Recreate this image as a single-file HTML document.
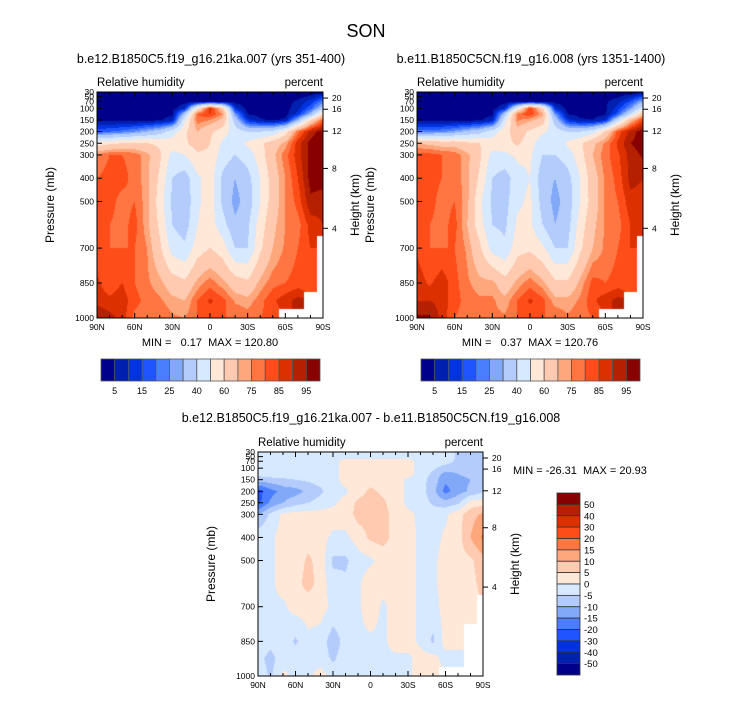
<!DOCTYPE html>
<html><head><meta charset="utf-8">
<style>
body{margin:0;background:#fff;width:733px;height:701px;overflow:hidden;position:relative;font-family:"Liberation Sans",Arial,sans-serif}
canvas{position:absolute}
svg{position:absolute;left:0;top:0}
text{font-family:"Liberation Sans",Arial,sans-serif;fill:#000}
</style></head>
<body>
<canvas id="c1" style="left:97px;top:92px" width="226" height="226"></canvas>
<canvas id="c2" style="left:417px;top:92px" width="226" height="226"></canvas>
<canvas id="c3" style="left:258px;top:452px" width="225" height="224"></canvas>
<svg id="ov" width="733" height="701">
<text x="366" y="37" font-size="18" text-anchor="middle">SON</text>
<text x="211" y="63" font-size="12.5" text-anchor="middle">b.e12.B1850C5.f19_g16.21ka.007 (yrs 351-400)</text>
<text x="531" y="63" font-size="12.5" text-anchor="middle">b.e11.B1850C5CN.f19_g16.008 (yrs 1351-1400)</text>
<text x="371" y="422" font-size="12.5" text-anchor="middle">b.e12.B1850C5.f19_g16.21ka.007 - b.e11.B1850C5CN.f19_g16.008</text>
<text x="210" y="346" font-size="11" text-anchor="middle" xml:space="preserve">MIN =   0.17  MAX = 120.80</text>
<text x="530" y="346" font-size="11" text-anchor="middle" xml:space="preserve">MIN =   0.37  MAX = 120.76</text>
<text x="513" y="474" font-size="11" xml:space="preserve">MIN = -26.31  MAX = 20.93</text>
</svg>
<script>
const pressures=[30,50,70,100,125,150,200,250,300,400,500,600,700,850,925,1000];
const latLabels=["90N","60N","30N","0","30S","60S","90S"];
const pTicks=[30,50,70,100,150,200,250,300,400,500,700,850,1000];
const zTicks=[20,16,12,8,4];
const zTickP=[56,104,198,358,615];
const rhLevels=[5,10,15,20,25,30,40,50,60,70,75,80,85,90,95];
const rhLabels=["5","15","25","40","60","75","85","95"];
const diffLevels=[-50,-40,-30,-20,-15,-10,-5,0,5,10,15,20,30,40,50];
const diffLabels=["50","40","30","20","15","10","5","0","-5","-10","-15","-20","-30","-40","-50"];
const palette=["#00008a","#0020b0","#0033e0","#1f55ff","#4a7dff","#82a8f8","#b3ccfc","#d7e9ff","#ffe8d8","#ffcab0","#ffa77c","#ff7642","#ff4d1a","#dd3000","#b52000","#880000"];
const N=null;
const rh1=[
[2,2,2,2,2,2,2,2,2,2,2,2,2,2,2,2,2,2,2],
[2,2,2,2,2,2,2,2,2,2,2,2,2,2,2,2,3,6,12],
[2,2,2,2,2,2,2,2,2,2,2,2,2,2,2,3,6,12,22],
[2,2,2,2,2,2,3,10,55,88,65,12,3,2,2,3,8,18,35],
[3,3,3,3,3,3,4,35,80,85,75,25,5,3,3,3,12,30,60],
[3,3,3,3,3,4,8,48,78,75,68,35,12,6,4,6,30,60,80],
[18,20,22,25,30,35,45,58,70,62,55,45,40,40,42,55,78,92,98],
[55,58,60,62,60,58,55,58,66,60,48,45,52,58,65,72,88,97,100],
[76,80,80,78,72,62,47,50,58,58,45,40,45,55,68,78,88,97,100],
[80,82,82,78,72,58,40,35,48,55,38,30,36,50,65,75,85,97,98],
[80,82,78,80,72,55,38,33,48,55,38,27,34,50,65,75,82,94,92],
[80,80,78,82,72,58,40,35,50,55,44,32,38,55,68,75,78,87,90],
[82,80,80,80,75,62,46,42,55,60,55,40,40,58,70,76,80,85,N],
[86,82,85,80,76,72,65,62,72,78,72,65,62,72,78,80,82,82,N],
[88,86,88,82,78,76,72,70,80,86,82,74,72,78,84,88,92,N,N],
[96,92,88,78,78,80,76,75,80,82,80,80,78,80,82,N,N,N,N]];
const rh2=[
[2,2,2,2,2,2,2,2,2,2,2,2,2,2,2,2,2,2,2],
[2,2,2,2,2,2,2,2,2,2,2,2,2,2,2,2,4,8,16],
[2,2,2,2,2,2,2,2,2,2,2,2,2,2,2,4,8,16,28],
[2,2,2,2,2,2,3,10,50,86,62,12,3,2,2,4,12,26,45],
[3,3,3,3,3,3,4,35,78,84,72,25,5,3,3,4,18,40,68],
[3,3,3,3,3,4,8,46,76,72,66,35,12,6,5,10,40,68,85],
[22,22,24,27,32,36,45,56,66,58,52,45,40,40,45,62,82,92,98],
[70,68,66,66,62,60,55,56,62,54,44,44,52,58,68,76,86,95,98],
[82,82,80,78,72,62,47,48,52,52,40,40,45,56,70,78,84,92,96],
[82,82,80,78,72,58,40,35,46,50,34,30,36,50,66,76,82,92,90],
[82,82,78,80,72,52,38,36,48,52,36,27,34,50,65,76,80,88,88],
[82,80,78,82,70,54,40,38,52,52,40,30,36,55,68,76,78,85,88],
[84,80,80,80,74,62,46,42,56,58,52,40,40,58,70,76,80,85,N],
[88,84,88,82,76,72,72,64,72,78,72,62,62,72,82,80,82,82,N],
[90,90,88,82,78,76,76,72,80,86,82,72,72,76,84,88,92,N,N],
[96,96,88,80,78,80,76,76,80,82,80,80,76,78,80,N,N,N,N]];
const diff=[
[-2,-2,-2,-2,-2,-2,-2,-2,-2,-2,-2,-2,-2,-2,-2,-2,-6,-6,-6],
[-2,-2,-2,-2,-2,-2,-2,-2,-2,-2,-2,-2,-2,-2,-2,-2,-6,-6,-6],
[-2,-2,-2,-2,-2,-2,-2,2,2,2,2,2,2,-2,-3,-3,-6,-6,-6],
[-2,-2,-2,-2,-2,-2,-2,2,2,2,2,2,2,-2,-4,-7,-8,-7,-6],
[-3,-2,-2,-2,-2,-2,-2,2,2,2,2,2,2,-2,-6,-12,-10,-8,-7],
[-8,-7,-6,-5,-4,-3,-2,2,3,3,2,2,-1,-3,-7,-14,-12,-10,-8],
[-22,-17,-13,-12,-9,-6,-2,-1,3,6,4,2,-1,-3,-8,-17,-12,-9,-6],
[-22,-14,-10,-7,-5,-3,-1,2,6,7,6,2,-1,-2,-6,-8,-6,2,3],
[-10,-4,1,2,2,2,2,2,7,7,7,3,1,-1,-2,-1,3,8,11],
[-2,-1,2,2,3,2,-1,-1,2,6,7,3,2,-1,-2,1,3,10,16],
[-2,-1,2,2,6,3,-6,-6,-2,-1,2,3,2,-1,-1,2,3,4,8],
[-2,-1,2,3,7,3,-3,-4,-1,3,2,3,2,-1,-1,2,3,3,7],
[-2,-1,-1,2,2,2,-1,-1,-1,3,-1,2,2,-1,-2,2,2,2,N],
[-2,-3,-1,-6,-1,-2,-8,-3,-1,-1,-1,2,2,-1,-6,2,2,N,N],
[-3,-7,-2,-1,-2,-2,-6,-2,-1,-1,-1,-1,-1,2,2,-2,-2,N,N],
[-1,-6,1,-1,-1,2,-1,-1,-1,-1,-1,-1,-1,2,3,N,N,N,N]];

function colorIndex(v,levels){let i=0;while(i<levels.length&&v>=levels[i])i++;return i;}
function hex(h){return [parseInt(h.substr(1,2),16),parseInt(h.substr(3,2),16),parseInt(h.substr(5,2),16)];}
const palRGB=palette.map(hex);
function pToFrac(p){return (p-30)/970;}
function fill(id,grid,levels){
  const cv=document.getElementById(id),ctx=cv.getContext('2d'),W=cv.width,H=cv.height;
  const img=ctx.createImageData(W,H);
  for(let py=0;py<H;py++){
    const p=30+(py+0.5)/H*970;
    let r=0;while(r<pressures.length-2&&p>pressures[r+1])r++;
    const t=(p-pressures[r])/(pressures[r+1]-pressures[r]);
    for(let px=0;px<W;px++){
      const f=(px+0.5)/W*18;let c=Math.min(17,Math.floor(f));const s=f-c;
      const corners=[[grid[r][c],(1-s)*(1-t)],[grid[r][c+1],s*(1-t)],[grid[r+1][c],(1-s)*t],[grid[r+1][c+1],s*t]];
      const near=grid[r+(t>0.5?1:0)][c+(s>0.5?1:0)];
      let k=(py*W+px)*4;
      if(near===null){img.data[k]=255;img.data[k+1]=255;img.data[k+2]=255;img.data[k+3]=255;continue;}
      let sum=0,ws=0;for(const [v,w] of corners){if(v!==null){sum+=v*w;ws+=w;}}
      const col=palRGB[colorIndex(sum/ws,levels)];
      img.data[k]=col[0];img.data[k+1]=col[1];img.data[k+2]=col[2];img.data[k+3]=255;
    }
  }
  ctx.putImageData(img,0,0);
}
fill('c1',rh1,rhLevels);fill('c2',rh2,rhLevels);fill('c3',diff,diffLevels);

const NS="http://www.w3.org/2000/svg",ov=document.getElementById('ov');
function mk(tag,attrs,txt){const e=document.createElementNS(NS,tag);for(const k in attrs)e.setAttribute(k,attrs[k]);if(txt!==undefined)e.textContent=txt;ov.appendChild(e);return e;}
function axes(x0,y0,W,H,tag){
  const yOf=p=>y0+pToFrac(p)*H;
  let e=mk('rect',{x:x0,y:y0,width:W,height:H,fill:'none',stroke:'#000','stroke-width':1});
  
  
  for(let i=0;i<=18;i++){const x=x0+i/18*W,L=(i%3===0)?5:3;
    mk('line',{x1:x,y1:y0+H,x2:x,y2:y0+H-L,stroke:'#000'});mk('line',{x1:x,y1:y0,x2:x,y2:y0+L,stroke:'#000'});}
  latLabels.forEach((lb,i)=>{
    e=mk('text',{x:x0+i/6*W,y:y0+H+12,'font-size':8.5,'text-anchor':'middle'},lb);
    
    
  });
  pTicks.forEach(p=>{const y=yOf(p);
    mk('line',{x1:x0,y1:y,x2:x0+5,y2:y,stroke:'#000'});
    e=mk('text',{x:x0-3,y:y+3,'font-size':8.5,'text-anchor':'end'},String(p));
    
    
  });
  zTicks.forEach((z,i)=>{const y=yOf(zTickP[i]);
    mk('line',{x1:x0+W,y1:y,x2:x0+W+5,y2:y,stroke:'#000'});
    e=mk('text',{x:x0+W+9,y:y+3,'font-size':8.5},String(z));
    
    
  });
  e=mk('text',{x:x0,y:y0-6,'font-size':11.5},'Relative humidity');
  
  
  e=mk('text',{x:x0+W,y:y0-6,'font-size':11.5,'text-anchor':'end'},'percent');
  
  
  const cy=y0+H/2;
  e=mk('text',{x:x0-43,y:cy,'font-size':12,'text-anchor':'middle',transform:`rotate(-90 ${x0-43} ${cy})`},'Pressure (mb)');
  
  
  e=mk('text',{x:x0+W+36,y:cy,'font-size':12,'text-anchor':'middle',transform:`rotate(-90 ${x0+W+36} ${cy})`},'Height (km)');
  
  
}
axes(97,92,226,226,'left');axes(417,92,226,226,'right');axes(258,452,225,224,'diff');

function hbar(x0,y0,W,H,tag){
  const n=palette.length,bw=W/n;
  palette.forEach((c,i)=>{
    const e=mk('rect',{x:x0+i*bw,y:y0,width:bw,height:H,fill:c,stroke:'#555','stroke-width':0.8});
    
    
  });
  rhLabels.forEach((lb,i)=>{
    const e=mk('text',{x:x0+(2*i+1)*bw,y:y0+H+13,'font-size':9,'text-anchor':'middle'},lb);
    
    
  });
}
hbar(101,359,219,22,'left');hbar(421,359,219,22,'right');
(function(){
  const x0=557,y0=493,W=23,H=182,n=palette.length,bh=H/n;
  for(let i=0;i<n;i++){
    const e=mk('rect',{x:x0,y:y0+i*bh,width:W,height:bh,fill:palette[n-1-i],stroke:'#333','stroke-width':0.8});
    
    
  }
  diffLabels.forEach((lb,i)=>{
    const e=mk('text',{x:x0+W+4,y:y0+(i+1)*bh+3.5,'font-size':9.5},lb);
    
    
  });
})();
</script>
</body></html>
